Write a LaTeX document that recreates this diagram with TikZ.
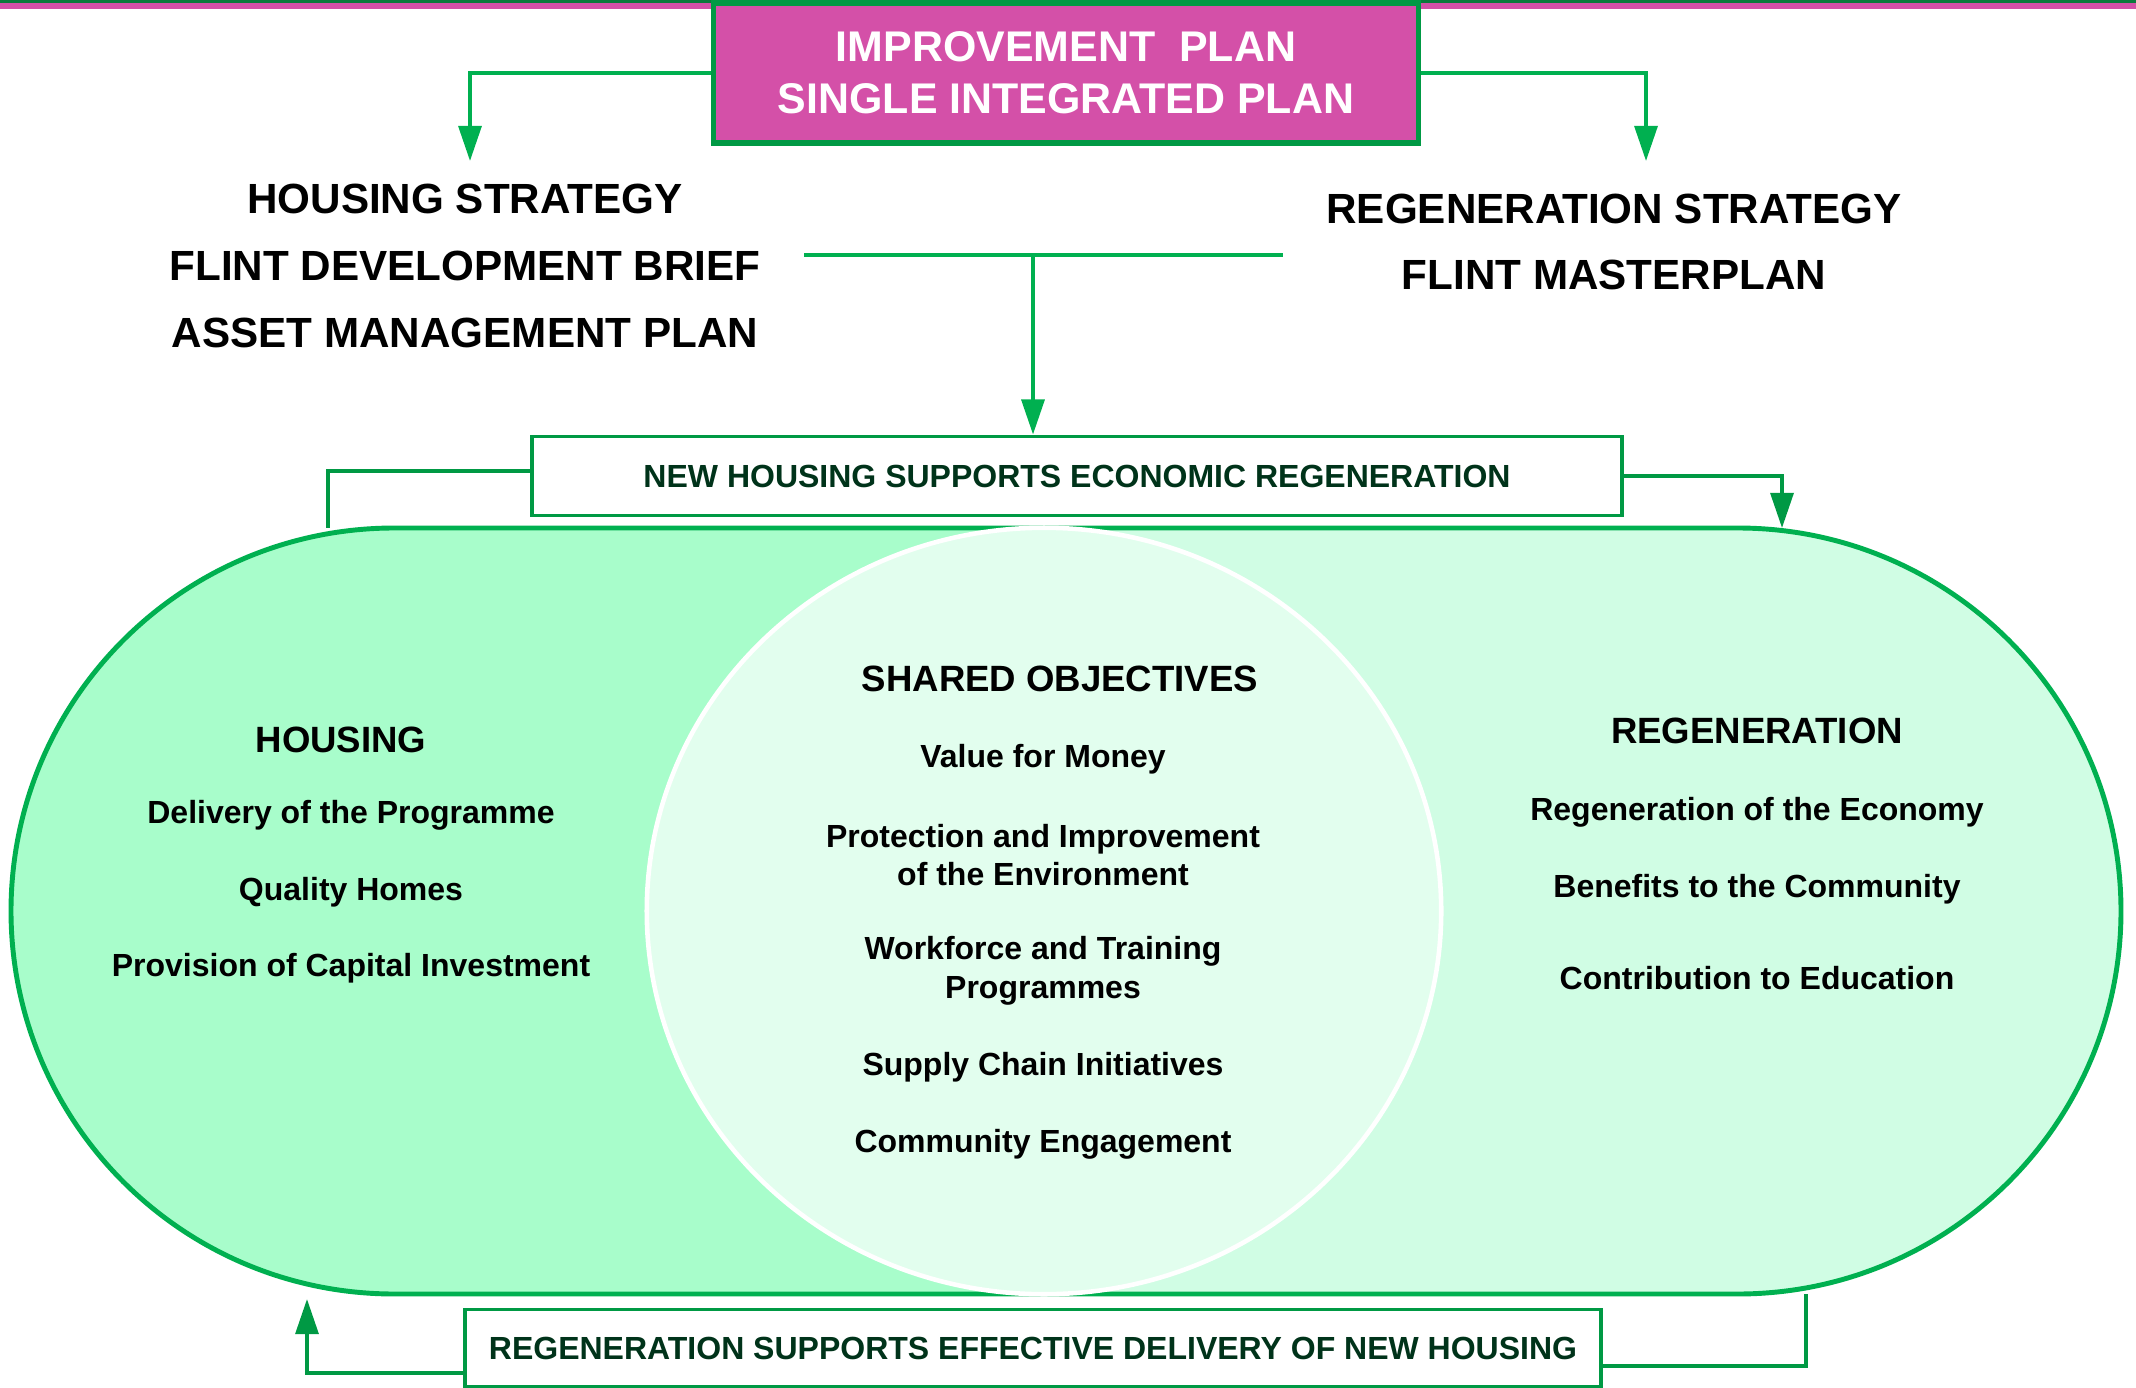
\documentclass[tikz,border=0pt]{standalone}
\usepackage{fontspec}
\setmainfont{Liberation Sans}
\usetikzlibrary{positioning, arrows.meta, calc}

\definecolor{pillgreen}{HTML}{00B050}
\definecolor{linkgreen}{HTML}{009944}
\definecolor{topgreen}{HTML}{0A7A3C}
\definecolor{planpink}{HTML}{D450A8}
\definecolor{housefill}{HTML}{A8FDCB}
\definecolor{regenfill}{HTML}{D0FDE4}
\definecolor{sharedfill}{HTML}{E2FEEE}
\definecolor{boxtext}{HTML}{00331A}

\begin{document}
\begin{tikzpicture}[x=0.01cm, y=-0.01cm,
    link/.style={draw=linkgreen, line width=1.1pt},
    linkarrow/.style={link, -{Triangle[length=10pt, width=6.5pt]}},
    planarrow/.style={draw=pillgreen, line width=1.1pt, -{Triangle[length=10pt, width=6.5pt]}},
    banner/.style={draw=linkgreen, line width=1.1pt, fill=white, text=boxtext,
                   font=\bfseries\fontsize{9.1}{11}\selectfont},
    strategy/.style={font=\bfseries\fontsize{12}{19}\selectfont, align=center},
    heading/.style={font=\bfseries\fontsize{10.4}{12.5}\selectfont},
    item/.style={font=\bfseries\fontsize{9.1}{11}\selectfont, align=center}]
    \useasboundingbox (0,0) rectangle (2136,1388);
    \fill[topgreen] (0,0) rectangle (2136,3);
    \fill[planpink] (0,3) rectangle (2136,9);

    % plan box and the two strategies
    \node[draw=linkgreen, fill=planpink, line width=1.5pt, minimum width=7.04cm,
          minimum height=1.40cm, text=white, align=center,
          font=\bfseries\fontsize{12.2}{14.8}\selectfont] (plan) at (1066,73)
          {IMPROVEMENT\ \ PLAN\\SINGLE INTEGRATED PLAN};
    \node[strategy] (housing) at (465,266) {HOUSING STRATEGY\\FLINT DEVELOPMENT BRIEF\\ASSET MANAGEMENT PLAN};
    \node[strategy] (regen) at (1614,242) {REGENERATION STRATEGY\\FLINT MASTERPLAN};

    \coordinate (housingtip) at (470,161);
    \coordinate (regentip) at (1646,161);
    \draw[planarrow] (plan.west) -| (housingtip);
    \draw[planarrow] (plan.east) -| (regentip);

    % the pill
    \begin{scope}
        \clip[rounded corners=3.83cm] (11,528) rectangle (2121,1294);
        \fill[housefill] (0,500) rectangle (1043,1300);
        \fill[regenfill] (1043,500) rectangle (2136,1300);
    \end{scope}
    \draw[pillgreen, line width=1.4pt, rounded corners=3.83cm] (11,528) rectangle (2121,1294);
    \draw[white, line width=1.3pt, fill=sharedfill] (1044,911) ellipse [x radius=3.97cm, y radius=3.83cm];

    % banners
    \node[banner, minimum width=10.89cm, minimum height=0.79cm] (newhousing) at (1077,476)
          {NEW HOUSING SUPPORTS ECONOMIC REGENERATION};
    \node[banner, minimum width=11.35cm, minimum height=0.77cm] (regenbox) at (1033,1348)
          {REGENERATION SUPPORTS EFFECTIVE DELIVERY OF NEW HOUSING};

    \coordinate (joinleft) at (804,255);
    \coordinate (joinright) at (1283,255);
    \coordinate (join) at (1033,255);
    \draw[draw=pillgreen, line width=1.1pt] (joinleft) -- (joinright);
    \draw[planarrow] (join) -- (join |- newhousing.north);

    \coordinate (pilltopleft) at (328,528);
    \coordinate (pilltopright) at (1782,528);
    \coordinate (pillbotleft) at (307,1299);
    \coordinate (pillbotright) at (1806,1294);
    \draw[link] ([yshift=0.05cm]newhousing.west) -| (pilltopleft);
    \draw[linkarrow] (newhousing.east) -| (pilltopright);
    \draw[linkarrow] ([yshift=-0.25cm]regenbox.west) -| (pillbotleft);
    \draw[link] ([yshift=-0.18cm]regenbox.east) -| (pillbotright);

    % housing side
    \node[heading] (househead) at (341,740) {HOUSING};
    \node[item] (house1) at (351,815) {Delivery of the Programme};
    \node[item] (house2) at (351,892) {Quality Homes};
    \node[item] (house3) at (351,968) {Provision of Capital Investment};

    % shared objectives
    \node[heading] (sharedhead) at (1060,679) {SHARED OBJECTIVES};
    \node[item] (shared1) at (1043,759) {Value for Money};
    \node[item] (shared2) at (1043,855) {Protection and Improvement\\of the Environment};
    \node[item] (shared3) at (1043,971) {Workforce and Training\\Programmes};
    \node[item] (shared4) at (1043,1067) {Supply Chain Initiatives};
    \node[item] (shared5) at (1043,1144) {Community Engagement};

    % regeneration side
    \node[heading] (regenhead) at (1757,731) {REGENERATION};
    \node[item] (regen1) at (1757,812) {Regeneration of the Economy};
    \node[item] (regen2) at (1757,889) {Benefits to the Community};
    \node[item] (regen3) at (1757,978) {Contribution to Education};
\end{tikzpicture}
\end{document}
